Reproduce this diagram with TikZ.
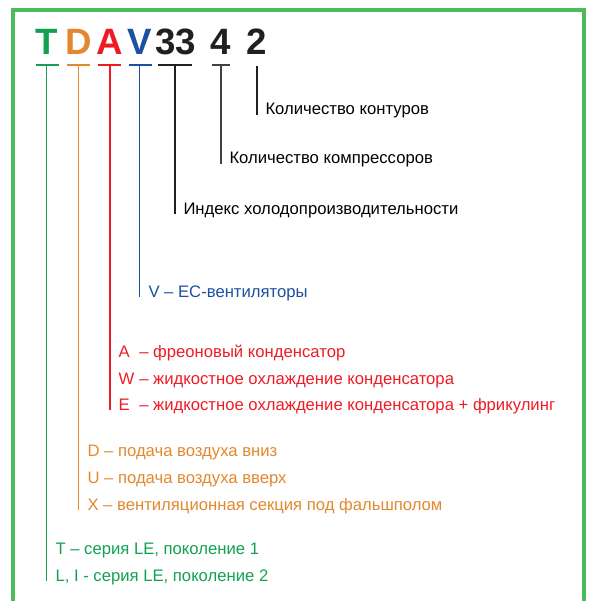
\documentclass[tikz,border=0pt]{standalone}
\usepackage{fontspec}
\setmainfont{Liberation Sans}
\definecolor{codegreen}{RGB}{18,161,80}
\definecolor{codeorange}{RGB}{226,136,46}
\definecolor{codered}{RGB}{237,28,36}
\definecolor{codeblue}{RGB}{28,80,160}
\definecolor{codeblack}{RGB}{35,31,32}
\definecolor{framegreen}{RGB}{76,187,92}
\newcommand\keyletter[1]{\makebox[15.6pt][l]{#1}}
\tikzset{every picture/.style={line width=0.75pt}}
\tikzset{
  bigletter/.style={anchor=base,inner sep=0pt,font=\fontsize{27.5}{28}\selectfont\bfseries},
  legend/.style={anchor=base west,inner sep=0pt,font=\fontsize{12.5}{14}\selectfont},
  tick/.style={line width=0.9}
}

\begin{document}
\begin{tikzpicture}[x=0.75pt,y=0.75pt,yscale=-1,xscale=1]
\useasboundingbox (0,0) rectangle (596,601);

% Frame
\draw [color=framegreen,line width=2.6] (13,620) -- (13,10) -- (584,10) -- (584,620) ;

% Code letters
\node [bigletter,text=codegreen] (lT) at (46.5,54) {T};
\node [bigletter,text=codeorange] (lD) at (78.5,54) {D};
\node [bigletter,text=codered] (lA) at (110,54) {A};
\node [bigletter,text=codeblue] (lV) at (139.5,54) {V};
\node [bigletter,text=codeblack] (l33) at (176,54) {33};
\node [bigletter,text=codeblack] (l4) at (221,54) {4};
\node [bigletter,text=codeblack] (l2) at (257,54) {2};

% Text Node
\node [legend] (circ) at (265,114.5) {Количество контуров};
% Text Node
\node [legend] (comp) at (229,163.5) {Количество компрессоров};
% Text Node
\node [legend] (cap) at (183,214) {Индекс холодопроизводительности};
% Text Node
\node [legend,text=codeblue] (fanV) at (148,297) {V – EC-вентиляторы};
% Text Node
\node [legend,text=codered] (condA) at (118,357) {\keyletter{A}– фреоновый конденсатор};
\node [legend,text=codered] (condW) at (118,384) {\keyletter{W}– жидкостное охлаждение конденсатора};
\node [legend,text=codered] (condE) at (118,410) {\keyletter{E}– жидкостное охлаждение конденсатора + фрикулинг};
% Text Node
\node [legend,text=codeorange] (airD) at (87,456) {D – подача воздуха вниз};
\node [legend,text=codeorange] (airU) at (87,483) {U – подача воздуха вверх};
\node [legend,text=codeorange] (airX) at (87,510) {X – вентиляционная секция под фальшполом};
% Text Node
\node [legend,text=codegreen] (serT) at (55,554) {T – серия LE, поколение 1};
\node [legend,text=codegreen] (serL) at (55,581) {L, I - серия LE, поколение 2};

% Ticks
\coordinate (tT) at (lT.base |- 0,65);
\draw [tick,codegreen] (36,65) -- (59,65) ;
\draw [tick,codegreen] (tT) -- (tT |- serL.base) ;
\coordinate (tD) at (lD.base |- 0,65);
\draw [tick,codeorange] (67,65) -- (90,65) ;
\draw [tick,codeorange] (tD) -- (tD |- airX.base) ;
\coordinate (tA) at (lA.base |- 0,65);
\draw [tick,codered] (98,65) -- (121,65) ;
\draw [tick,codered] (tA) -- (tA |- condE.base) ;
\coordinate (tV) at (lV.base |- 0,65);
\draw [tick,codeblue] (129,65) -- (152,65) ;
\draw [tick,codeblue] (tV) -- (tV |- fanV.base) ;
\coordinate (t33) at (175,65);
\draw [tick,codeblack] (158,65) -- (192,65) ;
\draw [tick,codeblack] (t33) -- (t33 |- cap.base) ;
\coordinate (t4) at (l4.base |- 0,65);
\draw [tick,codeblack!85] (212,65) -- (230,65) ;
\draw [tick,codeblack!85] (t4) -- (t4 |- comp.base) ;
\coordinate (t2) at (l2.base |- 0,66);
\draw [tick,codeblack] (t2) -- (t2 |- circ.base) ;

\end{tikzpicture}
\end{document}
